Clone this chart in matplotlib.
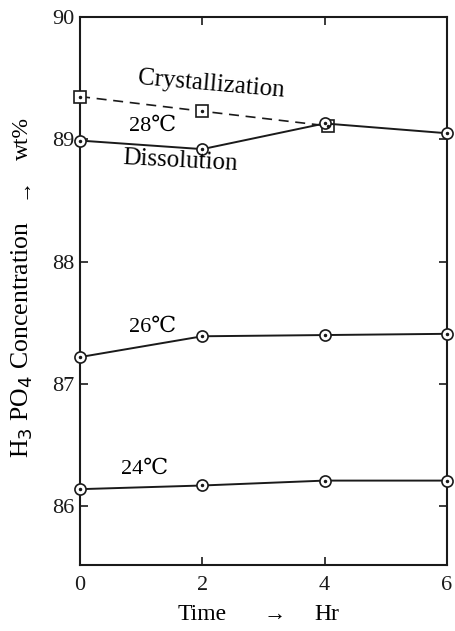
import numpy as np
import matplotlib.pyplot as plt

plt.rcParams['font.family'] = ['Liberation Serif', 'DejaVu Serif']

hours = [0, 2, 4, 6]
cryst = [89.35, 89.23, 89.11]
cryst_x = [0, 2, 4.05]
diss_28 = [88.99, 88.92, 89.13, 89.05]
temp_26 = [87.22, 87.39, 87.40, 87.41]
temp_24 = [86.14, 86.17, 86.21, 86.21]

fig = plt.figure(figsize=(4.55, 6.31), dpi=100)
fig.set(facecolor="white")
ax = fig.add_axes([0.176, 0.1046, 0.806, 0.8684])


def dotted(x, y, marker):
    ax.plot(x, y, color="#1a1a1a", lw=1.4, marker=marker, ms=8, mfc="white",
            mec="#1a1a1a", mew=1.2, clip_on=False, zorder=3)
    ax.plot(x, y, ls="none", marker=".", ms=3, color="#1a1a1a", clip_on=False, zorder=4)


ax.plot(cryst_x, cryst, color="#1a1a1a", lw=1.2, ls=(0, (6, 4)), zorder=2)
ax.plot(cryst_x, cryst, ls="none", marker="s", ms=8, mfc="white", mec="#1a1a1a", mew=1.2,
        clip_on=False, zorder=3)
ax.plot(cryst_x, cryst, ls="none", marker=".", ms=3, color="#1a1a1a", clip_on=False, zorder=4)
dotted(hours, diss_28, "o")
dotted(hours, temp_26, "o")
dotted(hours, temp_24, "o")

ax.set_xlim(0, 6)
ax.set_ylim(85.52, 90)
ax.set_xticks(hours)
ax.set_yticks([86, 87, 88, 89, 90])
ax.tick_params(direction="in", length=6, width=1.2, labelsize=16, pad=4,
               top=True, right=True, colors="#1a1a1a")
ax.tick_params(axis="x", pad=8)
for s in ax.spines.values():
    s.set_linewidth(1.5)
    s.set_color("#1a1a1a")

ax.text(2.15, 89.45, "Crystallization", fontsize=18, ha="center", va="center", rotation=-5)
ax.text(1.18, 89.11, "28℃", fontsize=16, ha="center", va="center")
ax.text(1.64, 88.82, "Dissolution", fontsize=18, ha="center", va="center", rotation=-3)
ax.text(1.18, 87.46, "26℃", fontsize=16, ha="center", va="center")
ax.text(1.06, 86.30, "24℃", fontsize=16, ha="center", va="center")

fig.text(0.05, 1 - 340 / 631, r"H$_3$ PO$_4$ Concentration", rotation=90, fontsize=18.5,
         ha="center", va="center")
fig.text(0.05, 1 - 188 / 631, "→", rotation=90, fontsize=16, ha="center", va="center")
fig.text(0.05, 1 - 138 / 631, "wt%", rotation=90, fontsize=17, ha="center", va="center")
fig.text(202 / 455, 1 - 615 / 631, "Time", fontsize=17, ha="center", va="center")
fig.text(275 / 455, 1 - 615 / 631, "→", fontsize=16, ha="center", va="center")
fig.text(327 / 455, 1 - 615 / 631, "Hr", fontsize=17, ha="center", va="center")

fig.savefig("out.png", dpi=100, facecolor="white")
